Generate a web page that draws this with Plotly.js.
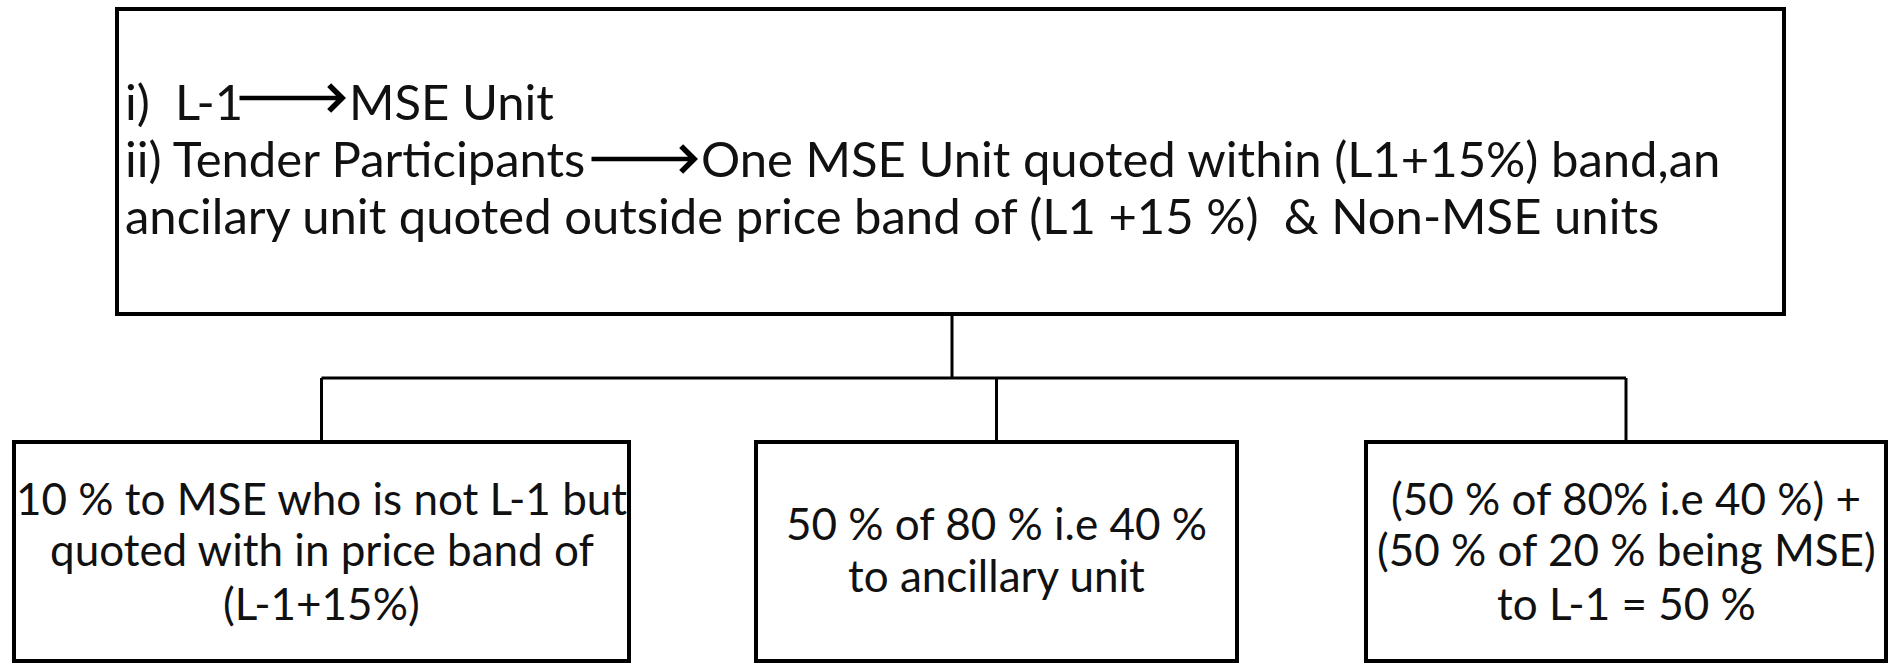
<!DOCTYPE html>
<html>
<head>
<meta charset="utf-8">
<script src="https://cdn.plot.ly/plotly-3.0.1.min.js"></script>
<style>html,body{margin:0;padding:0;background:#fff;}#chart{width:1890px;height:664px;}</style>
</head>
<body>
<div id="chart"></div>
<script>
// ---- content ----
const topLead = ["i)  L-1", "ii) Tender Participants"];
const topTail = ["MSE Unit", "One MSE Unit quoted within (L1+15%) band,an"];
const topLine3 = "ancilary unit quoted outside price band of (L1 +15 %)  & Non-MSE units";
const childTexts = [
  ["10 % to MSE who is not L-1 but", "quoted with in price band of", "(L-1+15%)"],
  ["50 % of 80 % i.e 40 %", "to ancillary unit"],
  ["(50 % of 80% i.e 40 %) +", "(50 % of 20 % being MSE)", "to L-1 = 50 %"]
];

// ---- layout geometry (pixels) ----
const W = 1890, H = 664;
const topBox = {x0: 117, x1: 1784, y0: 9, y1: 314};
const childBoxes = [
  {x0: 14, x1: 629, y0: 442, y1: 661},
  {x0: 756, x1: 1237, y0: 442, y1: 661},
  {x0: 1366, x1: 1886, y0: 442, y1: 661}
];
const busY = 378, stemX = 952;
const textLeft = 123;
const lineMid = [101, 158, 215];
const childMid = {3: [498, 549, 603], 2: [523, 575]};
const arrows = [{x0: 238, x1: 346}, {x0: 590, x1: 698}];
const arrowY = [98, 159];
const tailX = [347, 699];
const FONT = "Lato, Carlito, Calibri, sans-serif";
const TOP_SIZE = 49, CHILD_SIZE = 44;

const shapes = [];
const lineStyle = {color: "#000", width: 4};
shapes.push({type: "rect", xref: "x", yref: "y", x0: topBox.x0, x1: topBox.x1, y0: topBox.y0, y1: topBox.y1, line: lineStyle, fillcolor: "rgba(0,0,0,0)"});
childBoxes.forEach(b => shapes.push({type: "rect", xref: "x", yref: "y", x0: b.x0, x1: b.x1, y0: b.y0, y1: b.y1, line: lineStyle, fillcolor: "rgba(0,0,0,0)"}));
const conn = {color: "#000", width: 3};
shapes.push({type: "line", xref: "x", yref: "y", x0: stemX, x1: stemX, y0: topBox.y1, y1: busY, line: conn});
const centers = childBoxes.map(b => (b.x0 + b.x1) / 2);
shapes.push({type: "line", xref: "x", yref: "y", x0: centers[0], x1: centers[2], y0: busY, y1: busY, line: conn});
centers.forEach(c => shapes.push({type: "line", xref: "x", yref: "y", x0: c, x1: c, y0: busY, y1: childBoxes[0].y0, line: conn}));

const annotations = [];
const topFont = {family: FONT, size: TOP_SIZE, color: "#111"};
topLead.forEach((t, i) => annotations.push({xref: "x", yref: "y", x: textLeft, y: lineMid[i], text: t, showarrow: false, xanchor: "left", yanchor: "middle", font: topFont}));
topTail.forEach((t, i) => annotations.push({xref: "x", yref: "y", x: tailX[i], y: lineMid[i], text: t, showarrow: false, xanchor: "left", yanchor: "middle", font: topFont}));
annotations.push({xref: "x", yref: "y", x: textLeft, y: lineMid[2], text: topLine3, showarrow: false, xanchor: "left", yanchor: "middle", font: topFont});
arrows.forEach((a, i) => annotations.push({xref: "x", yref: "y", axref: "x", ayref: "y", x: a.x1, y: arrowY[i], ax: a.x0, ay: arrowY[i], text: "", showarrow: true, arrowhead: 4, arrowsize: 1.1, arrowwidth: 4.5, arrowcolor: "#000"}));
childTexts.forEach((lines, i) => {
  const b = childBoxes[i];
  const mids = childMid[lines.length];
  lines.forEach((t, j) => annotations.push({xref: "x", yref: "y", x: (b.x0 + b.x1) / 2, y: mids[j], text: t, showarrow: false, xanchor: "center", yanchor: "middle", align: "center", font: {family: FONT, size: CHILD_SIZE, color: "#111"}}));
});

const layout = {
  width: W, height: H,
  margin: {l: 0, r: 0, t: 0, b: 0},
  paper_bgcolor: "#fff", plot_bgcolor: "#fff",
  xaxis: {range: [0, W], visible: false, fixedrange: true},
  yaxis: {range: [H, 0], visible: false, fixedrange: true},
  showlegend: false,
  shapes: shapes,
  annotations: annotations
};
Plotly.newPlot("chart", [], layout, {displayModeBar: false, staticPlot: true});
</script>
</body>
</html>
